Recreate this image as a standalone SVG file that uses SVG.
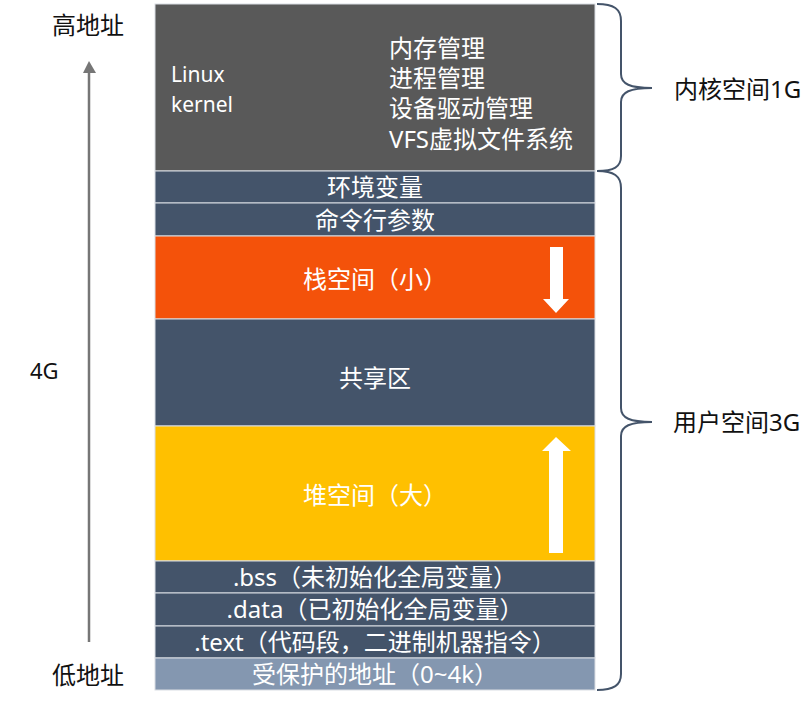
<svg xmlns="http://www.w3.org/2000/svg" width="805" height="722" viewBox="0 0 805 722">
<style>
.blk{stroke:#DADDE3;stroke-width:1}
.lbl{font-family:"Noto Sans","Noto Sans CJK SC",sans-serif;font-size:24px;fill:#FFFFFF;text-anchor:middle}
.kt{font-family:"Noto Sans","Noto Sans CJK SC",sans-serif;font-size:24px;fill:#FFFFFF}
.side{font-family:"Noto Sans","Noto Sans CJK SC",sans-serif;font-size:24px;fill:#111111}
.brace{fill:none;stroke:#44546A;stroke-width:2}
.warrow{fill:#FFFFFF}
</style>
<rect width="805" height="722" fill="#FFFFFF"/>
<g id="kernel">
<rect class="blk" x="155" y="4" width="440" height="167" fill="#595959"/>
<text class="kt" x="171" y="82" style="font-size:21px">Linux</text>
<text class="kt" x="171" y="112" style="font-size:21px">kernel</text>
<text class="kt" x="389" y="57">内存管理</text>
<text class="kt" x="389" y="87">进程管理</text>
<text class="kt" x="389" y="117">设备驱动管理</text>
<text class="kt" x="389" y="148">VFS虚拟文件系统</text>
</g>
<g id="env">
<rect class="blk" x="155" y="171" width="440" height="32" fill="#44546A"/>
<text class="lbl" x="375" y="196">环境变量</text>
</g>
<g id="args">
<rect class="blk" x="155" y="203" width="440" height="33" fill="#44546A"/>
<text class="lbl" x="375" y="229">命令行参数</text>
</g>
<g id="stack">
<rect class="blk" x="155" y="236" width="440" height="83" fill="#F4520A"/>
<text class="lbl" x="375" y="288">栈空间（小）</text>
<polygon class="warrow" points="550,247 563,247 563,299 569,299 556,313 543,299 550,299"/>
</g>
<g id="shared">
<rect class="blk" x="155" y="319" width="440" height="107" fill="#44546A"/>
<text class="lbl" x="375" y="387">共享区</text>
</g>
<g id="heap">
<rect class="blk" x="155" y="426" width="440" height="135" fill="#FFC000"/>
<text class="lbl" x="375" y="504">堆空间（大）</text>
<polygon class="warrow" points="549,553 563,553 563,451 571,451 556,437 542,451 549,451"/>
</g>
<g id="bss">
<rect class="blk" x="155" y="561" width="440" height="32" fill="#44546A"/>
<text class="lbl" x="375" y="586">.bss（未初始化全局变量）</text>
</g>
<g id="data">
<rect class="blk" x="155" y="593" width="440" height="33" fill="#44546A"/>
<text class="lbl" x="375" y="618">.data（已初始化全局变量）</text>
</g>
<g id="textseg">
<rect class="blk" x="155" y="626" width="440" height="32" fill="#44546A"/>
<text class="lbl" x="375" y="651">.text（代码段，二进制机器指令）</text>
</g>
<g id="protected">
<rect class="blk" x="155" y="658" width="440" height="32" fill="#8497B0"/>
<text class="lbl" x="375" y="683">受保护的地址（0~4k）</text>
</g>
<g id="high">
<text class="side" x="52" y="34">高地址</text>
</g>
<g id="low">
<text class="side" x="52" y="684">低地址</text>
</g>
<g id="size4g">
<text class="side" x="30" y="379" style="font-size:22px">4G</text>
</g>
<g id="kspace">
<text class="side" x="674" y="98">内核空间1G</text>
</g>
<g id="uspace">
<text class="side" x="673" y="431">用户空间3G</text>
</g>
<g id="connectors">
<line x1="89" y1="72" x2="89" y2="642" stroke="#767676" stroke-width="2.5"/>
<polygon points="89,61 83,73 96,73" fill="#767676"/>
<path class="brace" d="M597,4 C614,4 621,9 621,21 V74 C621,84 630,88 652,88 C630,88 621,92 621,102 V156 C621,167 614,171 597,171"/>
<path class="brace" d="M597,171 C614,171 621,176 621,188 V408 C621,418 630,422 652,422 C630,422 621,426 621,436 V674 C621,685 614,690 597,690"/>
</g>
</svg>
